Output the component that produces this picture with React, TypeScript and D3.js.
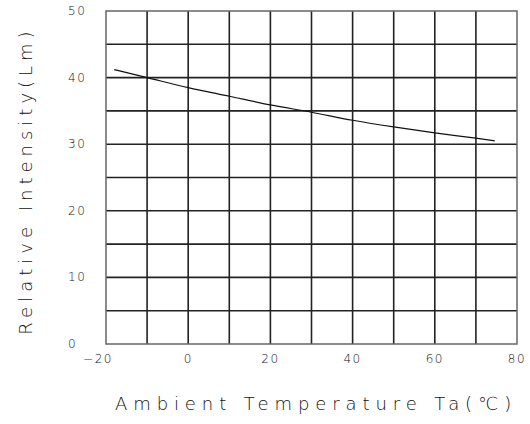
import * as d3 from 'd3';

const temps = [-18, -10, 0, 10, 20, 30, 40, 50, 60, 70, 74.6];
const intensity = [41.2, 40.0, 38.5, 37.2, 35.9, 34.8, 33.6, 32.6, 31.7, 30.9, 30.5];
const xTicks = [-20, 0, 20, 40, 60, 80];
const yTicks = [0, 10, 20, 30, 40, 50];

const W = 530;
const H = 424;
const left = 106, right = 517, top = 11, bottom = 344;

const App = () => {
  const x = d3.scaleLinear().domain([-20, 80]).range([left, right]);
  const y = d3.scaleLinear().domain([0, 50]).range([bottom, top]);

  const line = d3.line<number>()
    .x((_, i) => x(temps[i]))
    .y(d => y(d))
    .curve(d3.curveMonotoneX);

  const xGrid = d3.range(-10, 80, 10);
  const yGrid = d3.range(5, 50, 5);
  const font = "'DejaVu Sans', sans-serif";

  return (
    <svg width={W} height={H} style={{ position: 'absolute', left: 0, top: 0, background: '#fff' }}>
      {/* grid */}
      {xGrid.map(v => (
        <line key={'gx' + v} x1={x(v)} x2={x(v)} y1={top} y2={bottom} stroke="#222" strokeWidth={1.6} />
      ))}
      {yGrid.map(v => (
        <line key={'gy' + v} x1={left} x2={right} y1={y(v)} y2={y(v)} stroke="#222" strokeWidth={1.6} />
      ))}
      <rect x={left} y={top} width={right - left} height={bottom - top} fill="none" stroke="#666" strokeWidth={1.5} />

      {/* curve */}
      <path d={line(intensity) || ''} fill="none" stroke="#111" strokeWidth={1.2} />

      {/* tick labels */}
      {yTicks.map(v => (
        <text key={'yt' + v} x={68} y={y(v) + 4} fontFamily={font} fontWeight={200} fontSize={12}
          letterSpacing={1.5} fill="#111">
          {v}
        </text>
      ))}
      {xTicks.map(v => (
        <text key={'xt' + v} x={x(v) + (v < 0 ? -8 : 0)} y={363} textAnchor="middle" fontFamily={font}
          fontWeight={200} fontSize={12} letterSpacing={1.5} fill="#111">
          {v < 0 ? '−' + Math.abs(v) : v}
        </text>
      ))}

      {/* axis titles */}
      <text x={115} y={410} fontFamily={font} fontWeight={200} fontSize={18} letterSpacing={5.9} fill="#111">
        Ambient Temperature Ta(℃)
      </text>
      <text transform={`translate(32,${(28 + 333) / 2}) rotate(-90)`} textAnchor="middle" fontFamily={font}
        fontWeight={200} fontSize={18} letterSpacing={5} fill="#111">
        Relative Intensity(Lm)
      </text>
    </svg>
  );
};

export default App;
